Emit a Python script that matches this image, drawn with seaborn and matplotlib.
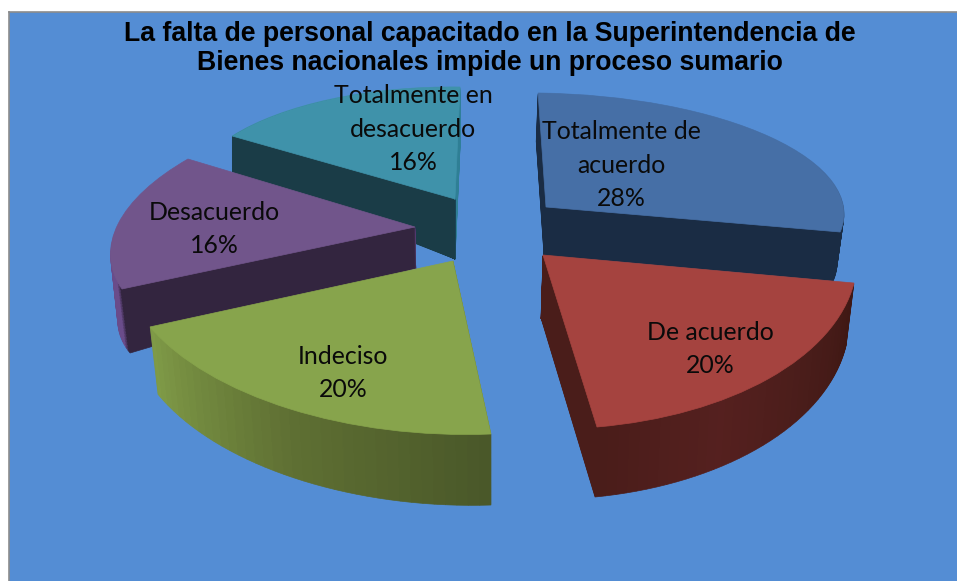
# Exploded 3D-look pie: each slice is a stack of ax.pie layers squashed by an affine transform.
import matplotlib.pyplot as plt
import numpy as np
import seaborn as sns
from matplotlib.transforms import Affine2D

title = "La falta de personal capacitado en la Superintendencia de\nBienes nacionales impide un proceso sumario"
categories = ["Totalmente de\nacuerdo", "De acuerdo", "Indeciso", "Desacuerdo", "Totalmente en\ndesacuerdo"]
shares = [28, 20, 20, 16, 16]

top_colors = ["#466fa6", "#a5433f", "#87a44c", "#71558b", "#3f92aa"]
# wall colours run clockwise around each slice
wall_colors = [
    ["#1a2c44", "#1a2c44"],
    ["#3f1814", "#4a1d1a", "#55201f", "#4a1d1a"],
    ["#4a5829", "#5f7033", "#7f9a47"],
    ["#33253f"] + ["#6a4c8a"] * 20,
    ["#1a3c47"] * 12 + ["#2f7f95"],
]
purple_inner = "#33253f"

# layout: (a, b, c, d, x, y) maps the unit pie to pixels, for top face and bottom face
top_faces = [
    (298, -2.7, -5.7, 113.9, 546, 207),
    (314, -9.3, 1.6, 174, 543, 255),
    (333, 9.6, -11.7, 173.1, 453, 261),
    (299.5, 54.9, 2.7, 134.9, 415, 227),
    (267, 9.7, -5.5, 111.9, 455, 199),
]
bottom_faces = [
    (293, -2.7, -6.7, 113.9, 544, 255),
    (308, -10.2, 3.9, 181.4, 541, 318),
    (326, 10.6, -14.6, 174.7, 455, 330),
    (294, 50, 31.5, 128.5, 416, 268),
    (267, 9.7, -34, 111.4, 455, 259),
]
label_pos = [(621, 165), (710, 349), (343, 373), (214, 229), (413, 129)]
draw_order = [4, 0, 3, 2, 1]
start_angle = 91

sns.set_theme(style="white")
fig = plt.figure(figsize=(9.57, 5.81), dpi=100, facecolor="white")
ax = fig.add_axes([9 / 957, 0, 948 / 957, 569 / 581])


def draw_slice(i, face, colors, radius=1):
    n = len(colors)
    start = start_angle - sum(shares[:i]) * 3.6
    wedges, _ = ax.pie(
        [shares[i] / 100 / n] * n,
        normalize=False,
        startangle=start,
        counterclock=False,
        colors=colors,
        radius=radius,
        wedgeprops={"linewidth": 0.5},
    )
    a, b, c, d, x, y = face
    trans = Affine2D.from_values(a, -c, b, -d, x, y) + ax.transData
    for w in wedges:
        w.set_transform(trans)
        w.set_edgecolor(w.get_facecolor())


for i in draw_order:
    top = np.array(top_faces[i])
    bottom = np.array(bottom_faces[i])
    n_layers = int(abs(bottom[5] - top[5]))
    palette = sns.blend_palette(wall_colors[i], 36)
    steps = np.linspace(1, 0, n_layers, endpoint=False)
    for t in steps:
        draw_slice(i, top + (bottom - top) * t, palette)
    # purple's radial wall stays dark right up to the apex
    if categories[i] == "Desacuerdo":
        for t in steps:
            draw_slice(i, top + (bottom - top) * t, [purple_inner], radius=0.6)
    draw_slice(i, top, [top_colors[i]])

ax.set(xlim=(9, 957), ylim=(581, 12), aspect="auto", xticks=[], yticks=[], frame_on=True)
ax.set_facecolor("#548dd4")
for side, spine in ax.spines.items():
    spine.set_visible(side in ("left", "top"))
    spine.set_color("#8c8c8c")
    spine.set_linewidth(1.2)

for cat, share, (x, y) in zip(categories, shares, label_pos):
    ax.text(x, y, f"{cat}\n{share}%", ha="center", va="center", family="Lato",
            fontsize=17.9, color="#0a0a0a", linespacing=1.53)

ax.text(490, 48.5, title, ha="center", va="center", family="Liberation Sans",
        fontweight="bold", fontsize=19.2, color="black", linespacing=1.19)

fig.savefig("out.png", dpi=100)
